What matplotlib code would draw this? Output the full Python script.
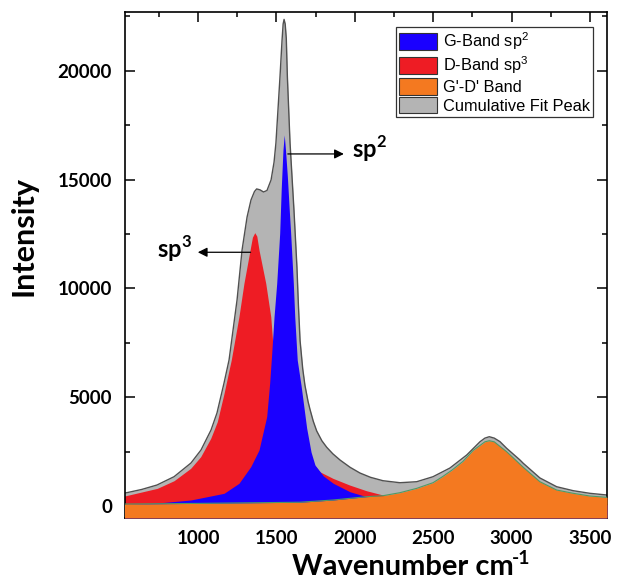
import matplotlib
matplotlib.use('Agg')
import matplotlib.pyplot as plt
from matplotlib.patches import Patch
from matplotlib.ticker import MultipleLocator

# cumulative fit peak (grey envelope)
cum_x = [531, 640, 738, 847, 955, 1019, 1083, 1121, 1166, 1198, 1249, 1281, 1313, 1338,
         1360, 1374, 1395, 1418, 1440, 1466, 1485, 1497, 1510, 1523, 1536, 1543, 1549, 1556,
         1563, 1570, 1587, 1612, 1631, 1640, 1651, 1668, 1682, 1702, 1714, 1735, 1757, 1790,
         1821, 1860, 1906, 1970, 2033, 2100, 2180, 2288, 2395, 2499, 2607, 2714, 2799, 2830,
         2858, 2890, 2926, 2969, 3054, 3075, 3181, 3288, 3394, 3500, 3609]
cum_y = [590, 760, 965, 1347, 1976, 2574, 3493, 4274, 5653, 6710, 9468, 11766, 13282, 14064,
         14450, 14570, 14530, 14430, 14500, 14983, 15800, 16683, 18200, 19730, 21400, 22150, 22360, 22150,
         21500, 19730, 16683, 13604, 10984, 9300, 7600, 6300, 5550, 4800, 4450, 3900, 3450, 3000,
         2700, 2400, 2114, 1780, 1517, 1320, 1163, 1071, 1117, 1347, 1746, 2344, 2955, 3120,
         3185, 3120, 2960, 2652, 2114, 1962, 1290, 887, 704, 584, 506]

# D band (sp3)
d_x = [531, 740, 847, 953, 1017, 1081, 1123, 1166, 1198, 1212, 1261, 1293, 1332, 1347,
       1362, 1375, 1389, 1432, 1464, 1485, 1520, 1560, 1620, 1680, 1735, 1776, 1861, 1967,
       2074, 2180, 2400, 2800, 3200, 3609]
d_y = [460, 812, 1163, 1731, 2266, 3110, 3876, 5178, 6251, 6710, 8700, 10235, 11766, 12350,
       12561, 12400, 11766, 10235, 8700, 6710, 5000, 3900, 2900, 2350, 1962, 1578, 1271, 965,
       704, 506, 350, 230, 160, 120]

# G band (sp2)
g_x = [531, 740, 953, 1166, 1261, 1336, 1389, 1438, 1457, 1470, 1485, 1502, 1521, 1531,
       1542, 1550, 1558, 1570, 1582, 1591, 1608, 1617, 1633, 1657, 1693, 1721, 1746, 1800,
       1863, 1969, 2076, 2140, 2400, 2800, 3200, 3609]
g_y = [60, 138, 276, 584, 1043, 1806, 2574, 4104, 5639, 7000, 8700, 10235, 12533, 14600,
       16362, 17050, 16362, 15135, 13604, 12533, 10235, 8700, 6710, 5561, 3585, 2482, 1884, 1380,
       1043, 657, 427, 308, 200, 120, 85, 60]

# G'-D' band
gd_x = [531, 1013, 1651, 1861, 2074, 2180, 2288, 2395, 2499, 2560, 2620, 2690, 2756, 2800,
        2830, 2858, 2890, 2915, 2969, 3075, 3181, 3288, 3394, 3500, 3609]
gd_y = [92, 122, 175, 276, 429, 475, 613, 812, 1071, 1350, 1650, 2050, 2560, 2790,
        2950, 3001, 2950, 2804, 2496, 1779, 1117, 735, 584, 460, 400]

labels = ['G-Band sp$^{\\mathregular{2}}$', 'D-Band sp$^{\\mathregular{3}}$',
          "G'-D' Band", 'Cumulative Fit Peak']
colors = ['#1a00ff', '#ee1c24', '#f47920', '#b4b4b4']

W, H = 619, 586
fig = plt.figure(figsize=(W / 100, H / 100), dpi=100)
ax = fig.add_axes([124.5 / W, 1 - 518 / H, 482.5 / W, 506 / H])

ybot = -550
ax.fill_between(cum_x, cum_y, ybot, color=colors[3], lw=0, zorder=1)
ax.plot(cum_x, cum_y, color='#505050', lw=1.0, zorder=1.5)
ax.fill_between(d_x, d_y, ybot, color=colors[1], lw=0, zorder=2)
ax.fill_between(g_x, g_y, ybot, color=colors[0], lw=0, zorder=3)
ax.fill_between(gd_x, gd_y, ybot, color=colors[2], lw=0, zorder=4)
ax.plot(gd_x, gd_y, color='#4f9a64', lw=0.8, zorder=4.5)

ax.set_xlim(531, 3609)
ax.set_ylim(ybot, 22700)
ax.xaxis.set_major_locator(MultipleLocator(500))
ax.xaxis.set_minor_locator(MultipleLocator(250))
ax.yaxis.set_major_locator(MultipleLocator(5000))
ax.yaxis.set_minor_locator(MultipleLocator(2500))
ax.tick_params(which='both', direction='in', top=True, right=True, width=1.1)
ax.tick_params(which='major', length=7, pad=9, labelsize=13.5)
ax.tick_params(which='minor', length=3.5)
for lab in ax.get_xticklabels() + ax.get_yticklabels():
    lab.set_fontfamily('Lato')
    lab.set_fontweight('bold')
for s in ax.spines.values():
    s.set_linewidth(1.2)

# annotations
ax.annotate('', xy=(1948, 16178), xytext=(1555, 16178),
            arrowprops=dict(arrowstyle='-|>', color='black', lw=0.9, mutation_scale=14))
ax.text(1982, 15994, 'sp$^{\\mathregular{2}}$', fontsize=17, fontweight='bold',
        family='Lato', ha='left', va='baseline')
ax.annotate('', xy=(981, 11660), xytext=(1353, 11660),
            arrowprops=dict(arrowstyle='-|>', color='black', lw=0.9, mutation_scale=14))
ax.text(962, 11398, 'sp$^{\\mathregular{3}}$', fontsize=17, fontweight='bold',
        family='Lato', ha='right', va='baseline')

handles = [Patch(facecolor=c, edgecolor='#333333', lw=0.8) for c in colors]
leg = ax.legend(handles, labels, loc='upper right', bbox_to_anchor=(0.971, 0.970),
                borderaxespad=0, fancybox=False, edgecolor='#333333', framealpha=1,
                prop={'family': 'Liberation Sans', 'size': 11.8}, handlelength=2.3,
                handleheight=1.2, labelspacing=0.12, handletextpad=0.35, borderpad=0.2)
leg.get_frame().set_linewidth(0.9)

# x label with a plain hyphen in the superscript
xl = fig.text(292 / W, 1 - 575 / H, 'Wavenumber cm', fontsize=21,
              fontweight='bold', family='Lato', ha='left', va='baseline')
fig.canvas.draw()
bb = xl.get_window_extent()
fig.text((bb.x1 - 2) / W, 1 - 564 / H, '-1', fontsize=14, fontweight='bold',
         family='Lato', ha='left', va='baseline')
fig.text(23.5 / W, 1 - 236 / H, 'Intensity', fontsize=22, fontweight='bold',
         family='Lato', rotation=90, ha='center', va='center')

fig.savefig('out.png', dpi=100)
